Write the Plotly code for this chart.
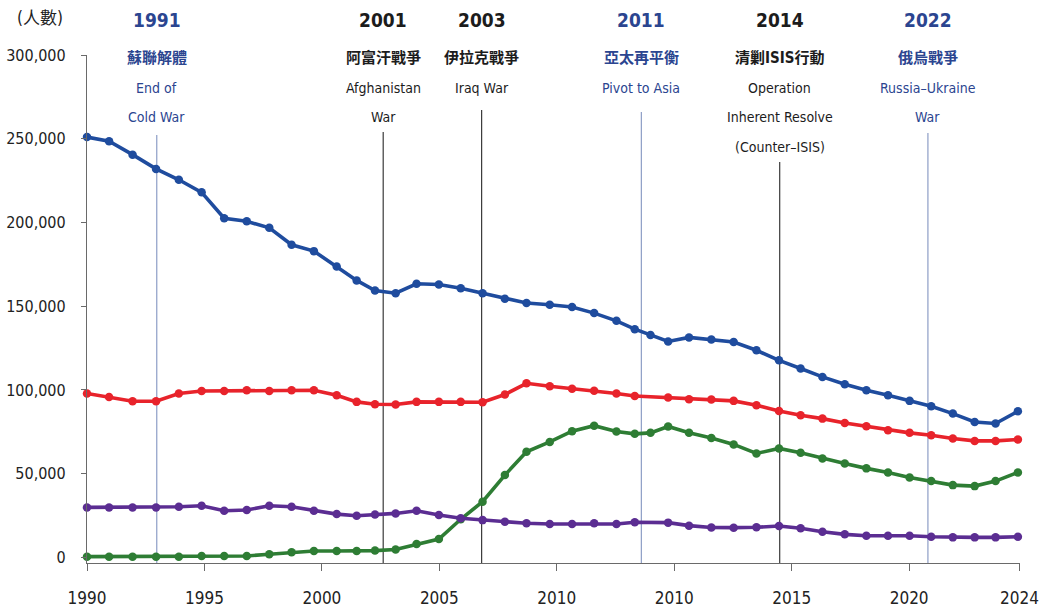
import plotly.graph_objects as go

# ---- data ----
x_years = [1990.0, 1990.94, 1991.94, 1992.94, 1993.91, 1994.88, 1995.84, 1996.80, 1997.76, 1998.71,
           1999.66, 2000.63, 2001.48, 2002.26, 2003.14, 2004.03, 2004.98, 2005.91, 2006.84, 2007.79,
           2008.71, 2009.70, 2010.65, 2011.59, 2012.54, 2013.32, 2013.99, 2014.74, 2015.63, 2016.58,
           2017.53, 2018.50, 2019.46, 2020.38, 2021.31, 2022.26, 2023.18, 2024.10, 2025.02, 2025.94,
           2026.86, 2027.79, 2028.68, 2029.63]

blue = [251000, 248500, 240500, 232000, 225500, 218000, 202500, 200700, 196800, 186700,
        182900, 173700, 165400, 159400, 157800, 163400, 163000, 160800, 157800, 154500,
        151900, 150900, 149500, 145900, 141300, 136300, 132800, 129000, 131400, 130200,
        128600, 123700, 117700, 112800, 107800, 103400, 99800, 96900, 93500, 90300,
        85900, 80900, 80000, 87300]

red = [97900, 95800, 93300, 93300, 97900, 99400, 99400, 99800, 99400, 99800,
       99800, 96900, 92900, 91500, 91300, 92900, 92900, 92900, 92700, 97300,
       104000, 102200, 100800, 99500, 97900, 96400, None, 95500, 94500, 94300,
       93500, 90900, 87500, 84900, 82900, 80300, 78400, 76000, 74400, 73000,
       71000, 69600, 69600, 70400]

green = [500, 500, 500, 500, 500, 900, 900, 900, 1900, 3100,
         3900, 3900, 3900, 4100, 4800, 8000, 11000, 22800, 33300, 49200,
         63100, 69000, 75400, 78700, 75200, 73800, 74400, 78200, 74500, 71300,
         67500, 62100, 65100, 62500, 59100, 56100, 53200, 50800, 47800, 45600,
         43200, 42600, 45600, 50800]

purple = [29900, 29900, 29900, 29900, 30300, 30900, 27900, 28300, 30900, 30300,
          27900, 25900, 24900, 25700, 26300, 27900, 25300, 23400, 22300, 21300,
          20400, 20000, 20000, 20500, 20000, 21000, None, 20800, 19000, 17900,
          17800, 18000, 18800, 17400, 15400, 13800, 13000, 13000, 13000, 12400,
          12000, 12000, 12000, 12400]

x_tick_vals = [1990, 1995, 2000, 2005, 2010, 2015, 2020, 2025, 2029.7]
x_tick_text = ["1990", "1995", "2000", "2005", "2010", "2010", "2015", "2020", "2024"]
y_tick_vals = [0, 50000, 100000, 150000, 200000, 250000, 300000]

event_x = [1992.97, 2002.61, 2006.80, 2013.60, 2019.49, 2025.80]
event_year = ["1991", "2001", "2003", "2011", "2014", "2022"]
event_text = [
    ["蘇聯解體", "End of", "Cold War"],
    ["阿富汗戰爭", "Afghanistan", "War"],
    ["伊拉克戰爭", "Iraq War"],
    ["亞太再平衡", "Pivot to Asia"],
    ["清剿ISIS行動", "Operation", "Inherent Resolve", "(Counter–ISIS)"],
    ["俄烏戰爭", "Russia–Ukraine", "War"],
]
event_is_blue = [True, False, False, True, False, True]

# ---- styling / layout ----
W, H = 1040, 609
ML, MR, MT, MB = 87, 20, 55, 46
PH = H - MT - MB
FONT = "DejaVu Sans Condensed, Noto Sans CJK TC, sans-serif"
BLUE_TXT = "#2b4590"
DARK_TXT = "#1c1c1c"


def py2paper(py):
    return (H - MB - py) / PH


fig = go.Figure()
series = [("blue", blue, "#1f4c9e"), ("red", red, "#e8232b"),
          ("green", green, "#2e7d34"), ("purple", purple, "#5b2d92")]
for name, vals, col in series:
    fig.add_trace(go.Scatter(
        x=x_years, y=vals, name=name, mode="lines+markers",
        connectgaps=True, cliponaxis=False,
        line=dict(color=col, width=3.6),
        marker=dict(color=col, size=8.5, symbol="circle"),
        showlegend=False,
    ))

line_top_px = [135, 132, 110, 112, 162, 133]
text_rows_px = [58, 88, 117, 147]
for i, ex in enumerate(event_x):
    blue_ev = event_is_blue[i]
    lcol = "#8d9dc6" if blue_ev else "#3a3a3a"
    tcol = BLUE_TXT if blue_ev else DARK_TXT
    fig.add_shape(type="line", xref="x", yref="paper", x0=ex, x1=ex,
                  y0=0, y1=py2paper(line_top_px[i]),
                  line=dict(color=lcol, width=1.2), layer="below")
    fig.add_annotation(x=ex, xref="x", y=py2paper(20), yref="paper",
                       text="<b>" + event_year[i] + "</b>", showarrow=False,
                       font=dict(family=FONT, size=19, color=tcol),
                       xanchor="center", yanchor="middle")
    for j, t in enumerate(event_text[i]):
        is_cjk = j == 0
        fig.add_annotation(x=ex, xref="x", y=py2paper(text_rows_px[j]), yref="paper",
                           text=("<b>" + t + "</b>") if is_cjk else t, showarrow=False,
                           font=dict(family=FONT, size=15 if is_cjk else 14, color=tcol),
                           xanchor="center", yanchor="middle")

fig.add_annotation(x=(40 - ML) / (W - ML - MR), xref="paper", y=py2paper(18), yref="paper",
                   text="(人數)", showarrow=False,
                   font=dict(family=FONT, size=17, color="#222"),
                   xanchor="center", yanchor="middle")

fig.update_layout(
    width=W, height=H,
    margin=dict(l=ML, r=MR, t=MT, b=MB, autoexpand=False),
    paper_bgcolor="white", plot_bgcolor="white",
    font=dict(family=FONT, color="#222"),
    xaxis=dict(range=[1990, 2029.72], tickmode="array", tickvals=x_tick_vals, ticktext=x_tick_text,
               showgrid=False, zeroline=False, showline=True, linecolor="#6a6a6a", linewidth=1.2,
               ticks="outside", ticklen=7, tickcolor="#6a6a6a", ticklabelstandoff=12,
               automargin=False,
               tickfont=dict(family=FONT, size=17, color="#222")),
    yaxis=dict(range=[-3300, 300000], tickmode="array", tickvals=y_tick_vals, tickformat=",",
               showgrid=False, zeroline=False, showline=True, linecolor="#6a6a6a", linewidth=1.2,
               ticks="outside", ticklen=5, tickcolor="#6a6a6a", ticklabelstandoff=12,
               automargin=False,
               tickfont=dict(family=FONT, size=16, color="#222")),
)

fig.write_html("out.html", config={"displayModeBar": False},
               post_script="document.body.style.margin='0';")
